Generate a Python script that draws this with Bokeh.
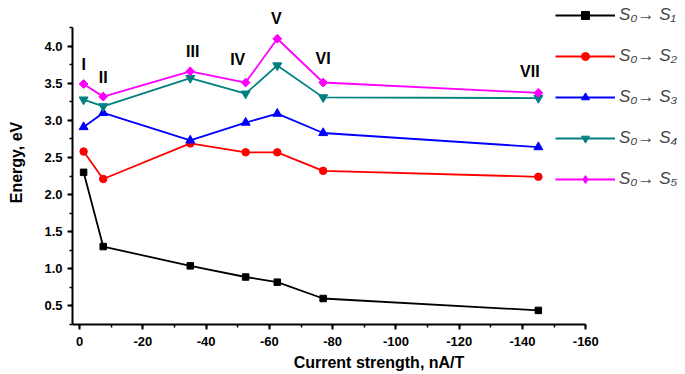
from bokeh.plotting import figure
from bokeh.models import (Range1d, Legend, LegendItem, SingleIntervalTicker, ColumnDataSource,
                          PrintfTickFormatter)
from bokeh.embed import file_html
from bokeh.resources import INLINE
from bokeh.core.properties import value
import numpy as np

# ---- data ----
current = [-1.3, -7.5, -35, -52.5, -62.5, -77, -145]
s1 = [2.30, 1.30, 1.04, 0.89, 0.82, 0.60, 0.44]
s2 = [2.58, 2.21, 2.69, 2.57, 2.57, 2.32, 2.24]
s3 = [2.91, 3.10, 2.73, 2.97, 3.09, 2.83, 2.64]
s4 = [3.28, 3.19, 3.57, 3.36, 3.74, 3.31, 3.30]
s5 = [3.49, 3.32, 3.66, 3.51, 4.10, 3.51, 3.37]
series_names = ["S\u2080\u2192 S\u2081", "S\u2080\u2192 S\u2082", "S\u2080\u2192 S\u2083",
                "S\u2080\u2192 S\u2084", "S\u2080\u2192 S\u2085"]
point_labels = ["I", "II", "III", "IV", "V", "VI", "VII"]
label_x = [-1.3, -7.5, -35.8, -50, -62.2, -77, -142.3]
label_y = [3.75, 3.58, 3.93, 3.82, 4.37, 3.83, 3.66]

FONT = "Liberation Sans"

p = figure(width=685, height=374,
           x_range=Range1d(2.21, -191.5), y_range=Range1d(0.25, 4.615),
           output_backend="svg", toolbar_location=None,
           min_border_left=72, min_border_right=0, min_border_top=0, min_border_bottom=50)
p.grid.visible = False
p.outline_line_color = None
p.background_fill_color = "white"
p.border_fill_color = "white"

# (values, colour, plot marker, size, angle, legend marker)
styles = [
    (s1, "black", "square", 6.5, 0, "square"),
    (s2, "red", "circle", 7.5, 0, "circle"),
    (s3, "blue", "triangle", 9, 0, "triangle"),
    (s4, "#008080", "inverted_triangle", 9, 0, "inverted_triangle"),
    (s5, "#ff00ff", "square", 6.2, np.pi / 4, "diamond"),
]

items = []
for (vals, color, marker, size, ang, lmarker), name in zip(styles, series_names):
    src = ColumnDataSource(dict(x=current, y=vals))
    ln = p.line("x", "y", source=src, line_color=color, line_width=1.8)
    leg = None
    if lmarker != marker:
        # diamond glyph used for the legend, drawn underneath the rotated squares
        leg = p.scatter("x", "y", source=src, marker=lmarker, size=8,
                        fill_color=color, line_color=color)
    sc = p.scatter("x", "y", source=src, marker=marker, size=size, angle=ang,
                   fill_color=color, line_color=color)
    items.append(LegendItem(label=name, renderers=[ln, leg if leg is not None else sc]))

lab_src = ColumnDataSource(dict(x=label_x, y=label_y, t=point_labels))
p.text("x", "y", text="t", source=lab_src, text_align="center", text_baseline="middle",
       text_font=value(FONT), text_font_style="bold", text_font_size="16px", text_color="black")

# axes
for ax in (p.xaxis[0], p.yaxis[0]):
    ax.axis_line_width = 2
    ax.major_tick_line_width = 2
    ax.minor_tick_line_width = 1.5
    ax.major_tick_out = 5
    ax.major_tick_in = 0
    ax.minor_tick_out = 3
    ax.minor_tick_in = 0
    ax.major_label_text_font = FONT
    ax.major_label_text_font_style = "bold"
    ax.major_label_text_font_size = "13px"
    ax.major_label_text_color = "black"
    ax.axis_label_text_font = FONT
    ax.axis_label_text_font_style = "bold"
    ax.axis_label_text_font_size = "16px"
    ax.axis_label_text_color = "black"

p.xaxis[0].ticker = SingleIntervalTicker(interval=20, num_minor_ticks=2)
p.xaxis[0].formatter = PrintfTickFormatter(format="%d")
p.xaxis[0].bounds = (-160, 2.21)
p.xaxis[0].major_label_standoff = 7
p.xaxis[0].axis_label = "Current strength, nA/T"
p.xaxis[0].axis_label_standoff = 5

p.yaxis[0].ticker = SingleIntervalTicker(interval=0.5, num_minor_ticks=2)
p.yaxis[0].formatter = PrintfTickFormatter(format="%.1f")
p.yaxis[0].bounds = (0.25, 4.25)
p.yaxis[0].major_label_standoff = 5
p.yaxis[0].axis_label = "Energy, eV"
p.yaxis[0].axis_label_standoff = 16

legend = Legend(items=items, location=(483, 135), glyph_width=60, glyph_height=20,
                label_height=20, spacing=21, padding=0, margin=0, label_standoff=4,
                label_text_font=FONT, label_text_font_style="italic", label_text_font_size="17px",
                background_fill_alpha=0, border_line_color=None)
p.add_layout(legend)

open("out.html", "w").write(file_html(p, INLINE))
